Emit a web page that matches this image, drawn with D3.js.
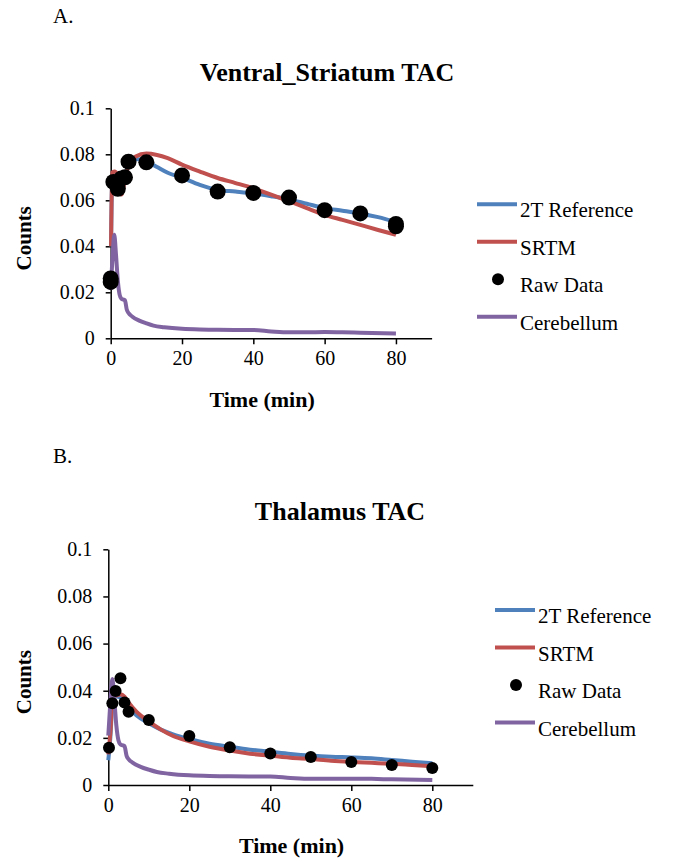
<!DOCTYPE html>
<html>
<head>
<meta charset="utf8">
<title>TAC</title>
<style>
  body { margin: 0; background: #fff; }
  svg text { font-family: "Liberation Serif", "Times New Roman", Times, serif; fill: #000; }
  .axis path, .axis line { stroke: #000; stroke-width: 1.5px; }
</style>
</head>
<body>
<svg width="678" height="861"></svg>
<script src="https://d3js.org/d3.v7.min.js"></script>
<script>
// ---- data ----
var seriesNames = ["2T Reference", "SRTM", "Raw Data", "Cerebellum"];
var xTicks = [0, 20, 40, 60, 80];
var yTicks = [0, 0.02, 0.04, 0.06, 0.08, 0.1];

// cerebellum reference curve (same in both panels)
var cerebT = [0, 0.5, 1, 1.5, 2, 2.5, 3, 4, 4.5, 5, 6, 8, 10, 12, 15, 20, 25, 30, 40, 45, 50, 55, 60, 65, 70, 80];
var cerebV = [0.021, 0.035, 0.045, 0.036, 0.025, 0.019, 0.0172, 0.0165, 0.0125, 0.011, 0.0095, 0.0077, 0.0065, 0.0055, 0.0048, 0.0041, 0.0038, 0.0037, 0.0036, 0.003, 0.0026, 0.0026, 0.0027, 0.0026, 0.0024, 0.0021];

// Ventral striatum
var vsFitT = [0.1, 0.4, 1, 1.5, 2, 3, 4, 5, 7, 10, 13, 16, 20, 25, 30, 35, 40, 45, 50, 55, 60, 65, 70, 75, 80];
var vs2T = [0.04, 0.068, 0.071, 0.068, 0.066, 0.068, 0.071, 0.075, 0.078, 0.077, 0.0745, 0.072, 0.0698, 0.0667, 0.0645, 0.0638, 0.063, 0.0618, 0.0604, 0.0585, 0.0566, 0.0555, 0.0543, 0.0527, 0.0505];
var vsSRTM = [0.04, 0.072, 0.0725, 0.0722, 0.066, 0.0625, 0.069, 0.075, 0.079, 0.0803, 0.0797, 0.0783, 0.0755, 0.0725, 0.0697, 0.0675, 0.0652, 0.0625, 0.0596, 0.0566, 0.0537, 0.0515, 0.0493, 0.0471, 0.045];
var vsRawT = [0, 0, 0.75, 2, 3, 4, 5, 10, 20, 30, 40, 50, 60, 70, 80, 80];
var vsRawV = [0.0245, 0.026, 0.068, 0.065, 0.0695, 0.070, 0.0768, 0.0765, 0.0708, 0.0638, 0.0632, 0.0612, 0.0557, 0.0543, 0.0497, 0.0487];

// Thalamus
var thFitT = [0, 0.5, 1, 1.5, 2, 3, 4, 5, 7, 10, 13, 16, 20, 25, 30, 35, 40, 45, 50, 55, 60, 65, 70, 75, 80];
var th2T = [0.0105, 0.02, 0.034, 0.0375, 0.0375, 0.037, 0.0355, 0.033, 0.0295, 0.0262, 0.0235, 0.0215, 0.0195, 0.0175, 0.0162, 0.015, 0.0141, 0.0132, 0.0125, 0.012, 0.0117, 0.0113, 0.0106, 0.0099, 0.0092];
var thSRTM = [0.013, 0.022, 0.036, 0.038, 0.038, 0.0385, 0.0375, 0.035, 0.031, 0.027, 0.0235, 0.0208, 0.0185, 0.0162, 0.0146, 0.0133, 0.0124, 0.0116, 0.011, 0.0103, 0.0098, 0.0094, 0.009, 0.0085, 0.008];
var thRawT = [0.17, 1, 1.8, 3, 4, 5, 10, 20, 30, 40, 50, 60, 70, 80];
var thRawV = [0.0158, 0.0347, 0.0399, 0.0453, 0.035, 0.0311, 0.0276, 0.0208, 0.016, 0.0134, 0.0119, 0.0098, 0.0085, 0.0072];

var colors = { blue: "#4f81bd", red: "#c0504d", purple: "#8064a2" };
var serif = "'Liberation Serif', 'Times New Roman', Times, serif";

var svg = d3.select("svg");

function zip(t, v) { return t.map(function(d, i) { return [d, v[i]]; }); }

function drawPanel(p) {
    var x = d3.scaleLinear().domain([0, 90]).range([p.x0, p.x1]);
    var y = d3.scaleLinear().domain([0, 0.1]).range([p.y0, p.y1]);
    var g = svg.append("g");

    // panel letter + title
    g.append("text").attr("x", 53).attr("y", p.letterY)
        .style("font-size", "21px").text(p.letter);
    g.append("text").attr("x", p.titleX).attr("y", p.titleY)
        .attr("text-anchor", "middle").style("font-size", "26px").style("font-weight", "bold")
        .text(p.title);

    // axes
    g.append("g").attr("class", "axis").attr("transform", "translate(0," + p.y0 + ")")
        .call(d3.axisBottom(x).tickValues(xTicks).tickSize(6).tickSizeOuter(0).tickPadding(7));
    g.append("g").attr("class", "axis").attr("transform", "translate(" + p.x0 + ",0)")
        .call(d3.axisLeft(y).tickValues(yTicks).tickSize(5).tickSizeOuter(0).tickPadding(11)
            .tickFormat(d3.format(".2~f")));
    g.selectAll(".axis").attr("font-family", serif).attr("font-size", 20);
    g.selectAll(".axis text").style("font-family", serif).style("font-size", "20px");

    g.append("text").attr("x", (p.x0 + p.x1) / 2 - 8 + p.xlabDx).attr("y", p.xlabY)
        .attr("text-anchor", "middle").style("font-size", "22px").style("font-weight", "bold")
        .text("Time (min)");
    g.append("text").attr("transform", "translate(31," + ((p.y0 + p.y1) / 2 + 15) + ") rotate(-90)")
        .attr("text-anchor", "middle").style("font-size", "21px").style("font-weight", "bold")
        .text("Counts");

    var line = d3.line().x(function(d) { return x(d[0]); }).y(function(d) { return y(d[1]); })
        .curve(d3.curveMonotoneX);

    var lines = [
        { data: zip(p.fitT, p.twoT), color: colors.blue },
        { data: zip(p.fitT, p.srtm), color: colors.red },
        { data: zip(cerebT, cerebV), color: colors.purple }
    ];
    g.selectAll("path.series").data(lines).enter().append("path")
        .attr("class", "series")
        .attr("d", function(d) { return line(d.data); })
        .attr("fill", "none").attr("stroke", function(d) { return d.color; })
        .attr("stroke-width", 4).attr("stroke-linejoin", "round");

    g.selectAll("circle.raw").data(zip(p.rawT, p.rawV)).enter().append("circle")
        .attr("class", "raw")
        .attr("cx", function(d) { return x(d[0]); })
        .attr("cy", function(d) { return y(d[1]); })
        .attr("r", p.dotR).attr("fill", "#000");

    // legend
    var lg = g.append("g").attr("transform", "translate(" + p.legX + "," + p.legY + ")");
    var legendColors = [colors.blue, colors.red, null, colors.purple];
    seriesNames.forEach(function(name, i) {
        var cy = i * 37.5;
        if (legendColors[i]) {
            lg.append("line").attr("x1", 0).attr("x2", 40).attr("y1", cy).attr("y2", cy)
                .attr("stroke", legendColors[i]).attr("stroke-width", 4);
        } else {
            lg.append("circle").attr("cx", 21).attr("cy", cy).attr("r", 6).attr("fill", "#000");
        }
        lg.append("text").attr("x", 43).attr("y", cy + 13)
            .style("font-family", serif).style("font-size", "21px").text(name);
    });
}

drawPanel({
    letter: "A.", letterY: 23, title: "Ventral_Striatum TAC", titleX: 327, titleY: 81,
    x0: 110.7, x1: 431.6, y0: 338.3, y1: 108.3, xlabY: 407, xlabDx: -1,
    fitT: vsFitT, twoT: vs2T, srtm: vsSRTM, rawT: vsRawT, rawV: vsRawV, dotR: 8,
    legX: 477, legY: 204.3
});
drawPanel({
    letter: "B.", letterY: 463, title: "Thalamus TAC", titleX: 340, titleY: 520,
    x0: 108.3, x1: 472.8, y0: 785, y1: 549.3, xlabY: 853, xlabDx: 9,
    fitT: thFitT, twoT: th2T, srtm: thSRTM, rawT: thRawT, rawV: thRawV, dotR: 6,
    legX: 495, legY: 610
});
</script>
</body>
</html>
